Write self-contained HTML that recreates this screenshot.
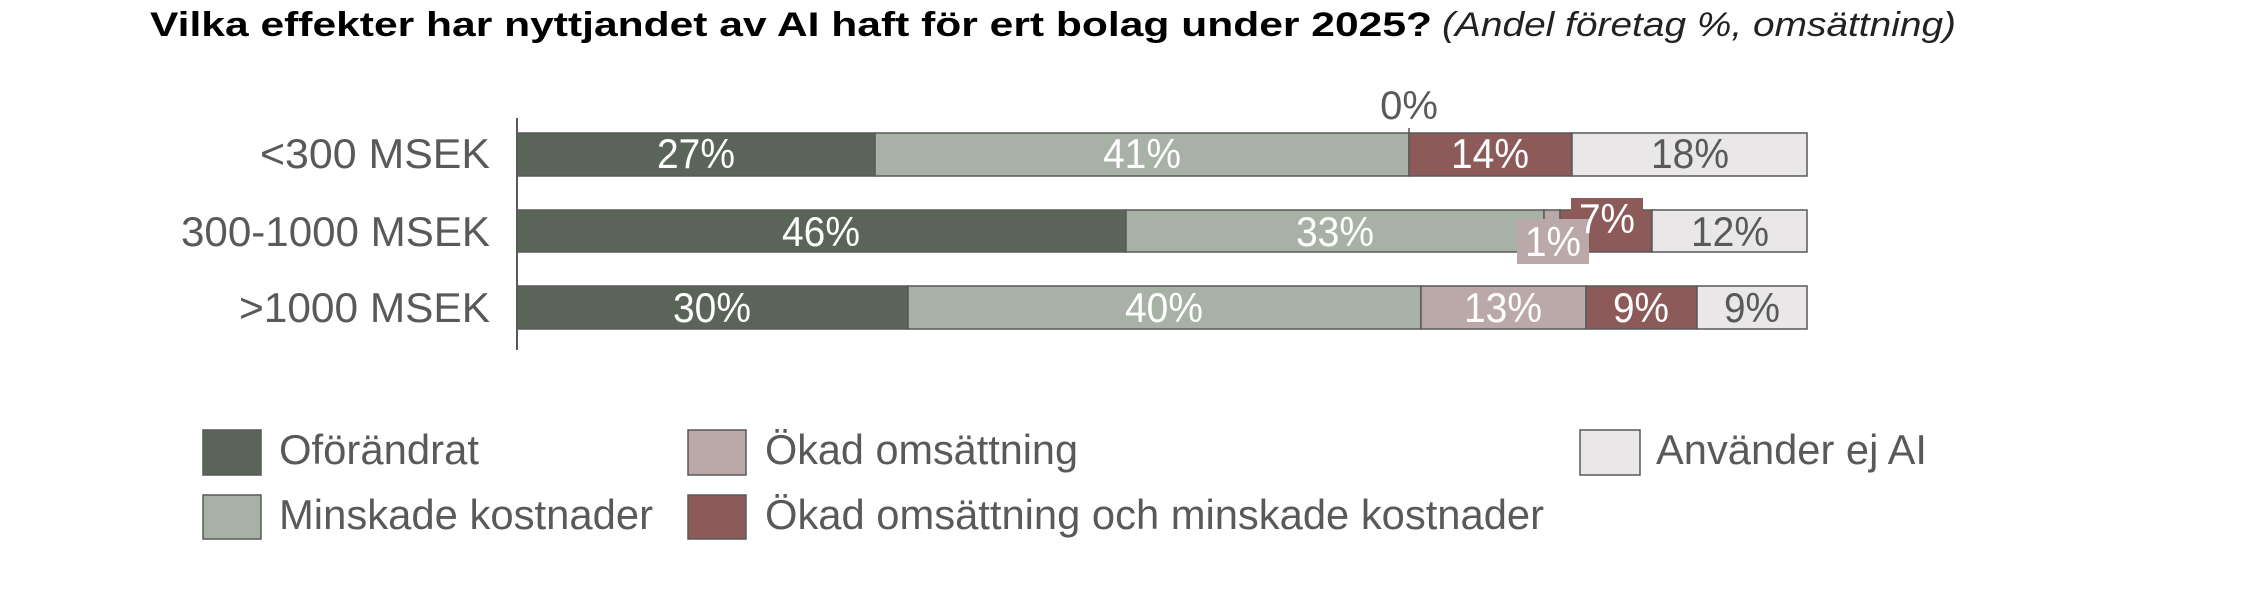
<!DOCTYPE html>
<html><head><meta charset="utf-8"><style>
html,body{margin:0;padding:0;background:#fff;}
svg{display:block}
text{font-family:"Liberation Sans",Arial,sans-serif;}
</style></head><body>
<svg width="2250" height="595" viewBox="0 0 2250 595" xmlns="http://www.w3.org/2000/svg">
<text x="150" y="36" font-size="34" font-weight="bold" fill="#000" textLength="1282" lengthAdjust="spacingAndGlyphs">Vilka effekter har nyttjandet av AI haft för ert bolag under 2025?</text>
<text x="1442" y="36" font-size="34" font-style="italic" fill="#222" textLength="514" lengthAdjust="spacingAndGlyphs">(Andel företag %, omsättning)</text>

<line x1="517" y1="118" x2="517" y2="350" stroke="#595959" stroke-width="2"/>
<line x1="1409" y1="128" x2="1409" y2="134" stroke="#595959" stroke-width="1.5"/>
<text x="1409" y="119" font-size="40" fill="#595959" text-anchor="middle">0%</text>

<g font-size="42" fill="#595959" text-anchor="end">
<text x="490" y="168" textLength="230" lengthAdjust="spacingAndGlyphs">&lt;300 MSEK</text>
<text x="490" y="246" textLength="309" lengthAdjust="spacingAndGlyphs">300-1000 MSEK</text>
<text x="490" y="322" textLength="251" lengthAdjust="spacingAndGlyphs">&gt;1000 MSEK</text>
</g>

<g stroke="#595959" stroke-width="1.5">
<rect x="517" y="133" width="358" height="43" fill="#5a6459"/>
<rect x="875" y="133" width="534" height="43" fill="#a7b1a5"/>
<rect x="1409" y="133" width="163" height="43" fill="#8d5a5a"/>
<rect x="1572" y="133" width="235" height="43" fill="#e9e7e8"/>
<rect x="517" y="210" width="609" height="42" fill="#5a6459"/>
<rect x="1126" y="210" width="418" height="42" fill="#a7b1a5"/>
<rect x="1544" y="210" width="16" height="42" fill="#bba9a9"/>
<rect x="1560" y="210" width="92" height="42" fill="#8d5a5a"/>
<rect x="1652" y="210" width="155" height="42" fill="#e9e7e8"/>
<rect x="517" y="286" width="391" height="43" fill="#5a6459"/>
<rect x="908" y="286" width="513" height="43" fill="#a7b1a5"/>
<rect x="1421" y="286" width="165" height="43" fill="#bba9a9"/>
<rect x="1586" y="286" width="111" height="43" fill="#8d5a5a"/>
<rect x="1697" y="286" width="110" height="43" fill="#e9e7e8"/>
</g>
<rect x="1571" y="198" width="72" height="14" fill="#8d5a5a"/>
<rect x="1517" y="219" width="72" height="45" fill="#bba9a9"/>

<g font-size="42" text-anchor="middle">
<text x="696" y="168" fill="#fff" textLength="78" lengthAdjust="spacingAndGlyphs">27%</text>
<text x="1142" y="168" fill="#fff" textLength="78" lengthAdjust="spacingAndGlyphs">41%</text>
<text x="1490" y="168" fill="#fff" textLength="78" lengthAdjust="spacingAndGlyphs">14%</text>
<text x="1690" y="168" fill="#595959" textLength="78" lengthAdjust="spacingAndGlyphs">18%</text>
<text x="821" y="246" fill="#fff" textLength="78" lengthAdjust="spacingAndGlyphs">46%</text>
<text x="1335" y="246" fill="#fff" textLength="78" lengthAdjust="spacingAndGlyphs">33%</text>
<text x="1607" y="233" fill="#fff" textLength="56" lengthAdjust="spacingAndGlyphs">7%</text>
<text x="1553" y="256" fill="#fff" textLength="56" lengthAdjust="spacingAndGlyphs">1%</text>
<text x="1730" y="246" fill="#595959" textLength="78" lengthAdjust="spacingAndGlyphs">12%</text>
<text x="712" y="322" fill="#fff" textLength="78" lengthAdjust="spacingAndGlyphs">30%</text>
<text x="1164" y="322" fill="#fff" textLength="78" lengthAdjust="spacingAndGlyphs">40%</text>
<text x="1503" y="322" fill="#fff" textLength="78" lengthAdjust="spacingAndGlyphs">13%</text>
<text x="1641" y="322" fill="#fff" textLength="56" lengthAdjust="spacingAndGlyphs">9%</text>
<text x="1752" y="322" fill="#595959" textLength="56" lengthAdjust="spacingAndGlyphs">9%</text>
</g>

<g stroke="#595959" stroke-width="1.5">
<rect x="203" y="430" width="58" height="45" fill="#5a6459"/>
<rect x="203" y="495" width="58" height="44" fill="#a7b1a5"/>
<rect x="688" y="430" width="58" height="45" fill="#bba9a9"/>
<rect x="688" y="495" width="58" height="44" fill="#8d5a5a"/>
<rect x="1580" y="430" width="60" height="45" fill="#e9e7e8"/>
</g>
<g font-size="42" fill="#595959">
<text x="279" y="464" textLength="200" lengthAdjust="spacingAndGlyphs">Oförändrat</text>
<text x="765" y="464" textLength="313" lengthAdjust="spacingAndGlyphs">Ökad omsättning</text>
<text x="1656" y="464" textLength="271" lengthAdjust="spacingAndGlyphs">Använder ej AI</text>
<text x="279" y="529" textLength="374" lengthAdjust="spacingAndGlyphs">Minskade kostnader</text>
<text x="765" y="529" textLength="779" lengthAdjust="spacingAndGlyphs">Ökad omsättning och minskade kostnader</text>
</g>
</svg>
</body></html>
